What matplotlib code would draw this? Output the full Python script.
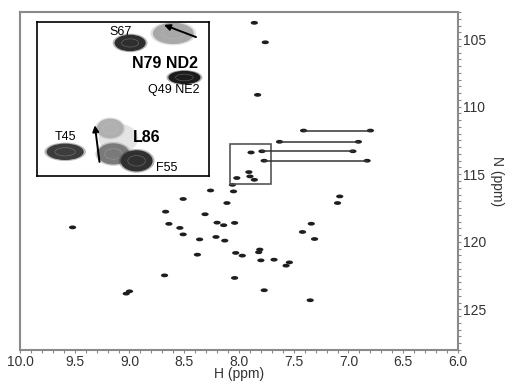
import matplotlib
matplotlib.use('Agg')
import matplotlib.pyplot as plt
from matplotlib.patches import Ellipse, Rectangle
from matplotlib.ticker import MultipleLocator, FormatStrFormatter

plt.rcParams['font.family'] = ['Liberation Sans', 'DejaVu Sans']

# 1H / 15N cross peaks (ppm)
peak_h = [7.86, 7.76, 7.83, 7.89, 8.02, 7.91, 7.86, 7.90, 8.06, 8.05,
          8.26, 8.51, 8.11, 8.67, 8.31, 8.20, 8.14, 8.04, 8.64, 8.54,
          8.51, 8.36, 8.21, 8.13, 9.52, 8.38, 8.03, 7.97, 7.81, 7.82,
          7.80, 8.68, 8.04, 7.77, 9.00, 9.03, 7.08, 7.10, 7.34, 7.42,
          7.31, 7.68, 7.54, 7.57, 7.35]
peak_n = [103.8, 105.24, 109.13, 113.39, 115.28, 114.84, 115.41, 115.16, 115.78, 116.27,
          116.2, 116.83, 117.13, 117.77, 117.96, 118.58, 118.77, 118.6, 118.67, 118.97,
          119.45, 119.82, 119.64, 119.91, 118.93, 120.95, 120.82, 121.02, 120.57, 120.77,
          121.37, 122.48, 122.67, 123.58, 123.66, 123.83, 116.64, 117.13, 118.66, 119.27,
          119.79, 121.32, 121.52, 121.76, 124.32]

# NH2 side-chain pairs (same 15N, two 1H)
pair_h1 = [7.41, 7.63, 7.79, 7.77]
pair_h2 = [6.80, 6.91, 6.96, 6.83]
pair_n = [111.77, 112.6, 113.3, 114.0]

# zoomed region shown in the inset
box_h = [8.08, 7.71]
box_n = [112.8, 115.7]

# inset peaks: position, size (ppm) and grey level
ins_h = [7.880, 7.787, 7.763, 8.020, 7.923, 7.916, 7.866]
ins_n = [113.20, 113.02, 113.85, 115.25, 114.81, 115.29, 115.42]
ins_w = [0.067, 0.088, 0.069, 0.080, 0.058, 0.069, 0.069]
ins_ht = [0.31, 0.40, 0.25, 0.31, 0.37, 0.40, 0.40]
ins_grey = ['#2e2e2e', '#a8a8a8', '#1c1c1c', '#3c3c3c', '#b0b0b0', '#7a7a7a', '#303030']

ins_labels = ['S67', 'N79 ND2', 'Q49 NE2', 'T45', 'L86', 'F55']
ins_lab_h = [7.90, 7.805, 7.785, 8.02, 7.844, 7.801]
ins_lab_n = [112.99, 113.58, 114.09, 114.97, 114.99, 115.56]
ins_lab_bold = [False, True, False, False, True, False]

# shift arrows in the inset (start -> end)
arr_h0 = [7.738, 7.946]
arr_n0 = [113.09, 115.44]
arr_h1 = [7.807, 7.956]
arr_n1 = [112.86, 114.75]

W, H = 514, 385
fig = plt.figure(figsize=(W / 100, H / 100), dpi=100)
ax = fig.add_axes([20 / W, 1 - 350 / H, 438 / W, 338 / H])

pk_w, pk_h = 0.066, 0.28
for h, n in zip(peak_h, peak_n):
    ax.add_patch(Ellipse((h, n), pk_w, pk_h, color='#1e1e1e', lw=0))
for h1, h2, n in zip(pair_h1, pair_h2, pair_n):
    ax.plot([h1, h2], [n, n], color='#333333', lw=1.1)
    ax.add_patch(Ellipse((h1, n), pk_w, pk_h, color='#1e1e1e', lw=0))
    ax.add_patch(Ellipse((h2, n), pk_w, pk_h, color='#1e1e1e', lw=0))

ax.add_patch(Rectangle((box_h[0], box_n[0]), box_h[1] - box_h[0], box_n[1] - box_n[0],
                       fill=False, edgecolor='#555555', lw=1.2))

ax.set_xlim(10.0, 6.0)
ax.set_ylim(128, 103)
ax.yaxis.tick_right()
ax.yaxis.set_label_position('right')
ax.xaxis.set_major_locator(MultipleLocator(0.5))
ax.xaxis.set_minor_locator(MultipleLocator(0.1))
ax.xaxis.set_major_formatter(FormatStrFormatter('%.1f'))
ax.yaxis.set_major_locator(MultipleLocator(5))
ax.yaxis.set_minor_locator(MultipleLocator(0.5))
ax.tick_params(which='both', colors='#888888', labelcolor='#333333', labelsize=10,
               length=2, width=0.8, pad=1.5)
for s in ax.spines.values():
    s.set_color('#8a8a8a')
    s.set_linewidth(1.5)
ax.set_xlabel('H (ppm)', fontsize=10, color='#333333', labelpad=-1)
ax.set_ylabel('N (ppm)', fontsize=10, color='#333333', rotation=270, labelpad=13)

# inset
ins = fig.add_axes([37.3 / W, 1 - 175.7 / H, 171.7 / W, 154 / H])
ins.set_xlim(box_h[0], box_h[1])
ins.set_ylim(box_n[1], box_n[0])
ins.set_xticks([])
ins.set_yticks([])
for s in ins.spines.values():
    s.set_color('black')
    s.set_linewidth(1.2)

# light halo below L86
ins.add_patch(Ellipse((7.905, 115.0), 0.085, 0.55, color='#e4e4e4', lw=0))
for h, n, w, ht, g in zip(ins_h, ins_n, ins_w, ins_ht, ins_grey):
    ins.add_patch(Ellipse((h, n), w * 1.12, ht * 1.12, color=g, alpha=0.35, lw=0))
    ins.add_patch(Ellipse((h, n), w, ht, color=g, lw=0))
    ins.add_patch(Ellipse((h, n), w * 0.55, ht * 0.5, fill=False, edgecolor='#c8c8c8',
                          lw=0.5, alpha=0.35))

for t, h, n, b in zip(ins_labels, ins_lab_h, ins_lab_n, ins_lab_bold):
    ins.text(h, n, t, ha='center', va='center', fontsize=11.5 if b else 9,
             fontweight='bold' if b else 'normal', color='black')

for h0, n0, h1, n1 in zip(arr_h0, arr_n0, arr_h1, arr_n1):
    ins.annotate('', xy=(h1, n1), xytext=(h0, n0),
                 arrowprops=dict(arrowstyle='-|>', color='black', lw=1.4,
                                 mutation_scale=9, shrinkA=0, shrinkB=0))

fig.savefig('out.png', dpi=100)
